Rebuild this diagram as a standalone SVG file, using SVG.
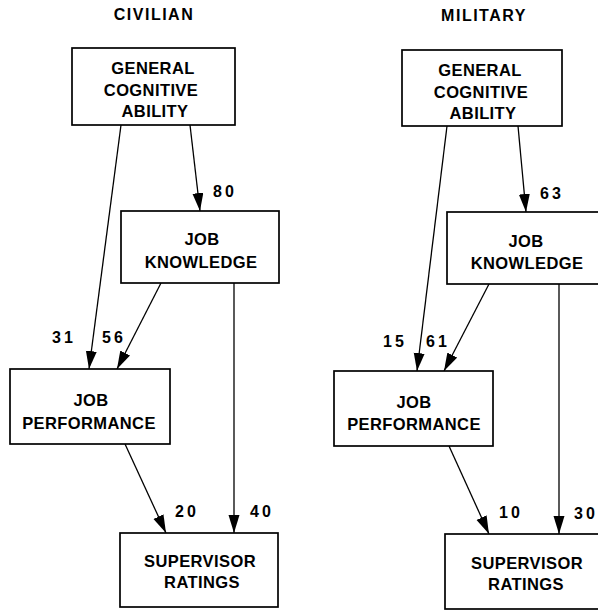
<svg xmlns="http://www.w3.org/2000/svg" width="598" height="611" viewBox="0 0 598 611">
<style>
.box{fill:#fff;stroke:#000;stroke-width:1.7}
.t{font-family:"Liberation Sans",Arial,sans-serif;font-weight:bold;font-size:16.5px;letter-spacing:0.4px;text-anchor:middle;fill:#000}
.title{font-family:"Liberation Sans",Arial,sans-serif;font-weight:bold;font-size:16px;letter-spacing:1.5px;text-anchor:middle;fill:#000}
.n{font-family:"Liberation Sans",Arial,sans-serif;font-weight:bold;font-size:16px;letter-spacing:3px;fill:#000}
.c{stroke:#000;stroke-width:1.3;fill:none;marker-end:url(#ah)}
</style>
<defs>
<marker id="ah" markerUnits="userSpaceOnUse" markerWidth="19" markerHeight="12" refX="18" refY="5.5" orient="auto">
<path d="M0,0 L18,5.5 L0,11 z" fill="#000"/>
</marker>
</defs>
<text class="title" x="154" y="20">CIVILIAN</text>
<text class="title" x="484" y="21">MILITARY</text>
<g id="connectors">
<line class="c" x1="190" y1="125" x2="200" y2="211"/>
<line class="c" x1="121" y1="125" x2="89" y2="369"/>
<line class="c" x1="161" y1="283" x2="117" y2="369"/>
<line class="c" x1="125" y1="444" x2="166" y2="533"/>
<line class="c" x1="234" y1="283" x2="234" y2="533"/>
<line class="c" x1="518" y1="126" x2="526" y2="212"/>
<line class="c" x1="447" y1="126" x2="417" y2="371"/>
<line class="c" x1="489" y1="284" x2="444" y2="371"/>
<line class="c" x1="449" y1="446" x2="489" y2="534"/>
<line class="c" x1="559" y1="284" x2="559" y2="534"/>
<text class="n" x="213" y="197">80</text>
<text class="n" x="52" y="343">31</text>
<text class="n" x="102" y="343">56</text>
<text class="n" x="175" y="517">20</text>
<text class="n" x="250" y="517">40</text>
<text class="n" x="540" y="199">63</text>
<text class="n" x="383" y="347">15</text>
<text class="n" x="426" y="347">61</text>
<text class="n" x="499" y="518">10</text>
<text class="n" x="574" y="519">30</text>
</g>
<g id="civ-gca">
<rect class="box" x="72" y="48" width="163" height="77"/>
<text class="t" x="153" y="74">GENERAL</text>
<text class="t" x="151" y="96">COGNITIVE</text>
<text class="t" x="155" y="117">ABILITY</text>
</g>
<g id="civ-jk">
<rect class="box" x="121" y="211" width="158" height="72"/>
<text class="t" x="202" y="245">JOB</text>
<text class="t" x="201" y="268">KNOWLEDGE</text>
</g>
<g id="civ-jp">
<rect class="box" x="10" y="369" width="160" height="75"/>
<text class="t" x="91" y="406">JOB</text>
<text class="t" x="89" y="429">PERFORMANCE</text>
</g>
<g id="civ-sr">
<rect class="box" x="120" y="533" width="158" height="74"/>
<text class="t" x="200" y="567">SUPERVISOR</text>
<text class="t" x="202" y="588">RATINGS</text>
</g>
<g id="mil-gca">
<rect class="box" x="402" y="50" width="160" height="76"/>
<text class="t" x="480" y="76">GENERAL</text>
<text class="t" x="481" y="98">COGNITIVE</text>
<text class="t" x="483" y="119">ABILITY</text>
</g>
<g id="mil-jk">
<rect class="box" x="447" y="212" width="160" height="72"/>
<text class="t" x="526" y="247">JOB</text>
<text class="t" x="527" y="269">KNOWLEDGE</text>
</g>
<g id="mil-jp">
<rect class="box" x="334" y="371" width="159" height="75"/>
<text class="t" x="414" y="408">JOB</text>
<text class="t" x="414" y="430">PERFORMANCE</text>
</g>
<g id="mil-sr">
<rect class="box" x="445" y="534" width="165" height="75"/>
<text class="t" x="527" y="569">SUPERVISOR</text>
<text class="t" x="526" y="590">RATINGS</text>
</g>
</svg>
